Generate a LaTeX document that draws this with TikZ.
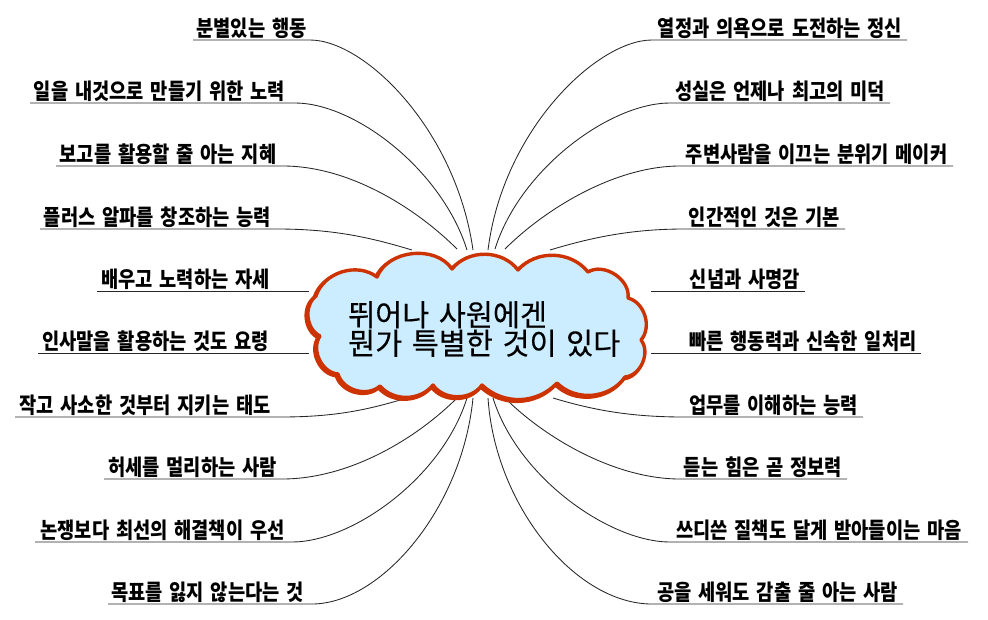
\documentclass[tikz,border=0pt]{standalone}
\usepackage{fontspec}
\newfontfamily\labfont{Noto Sans CJK KR}[FakeStretch=0.85,WordSpace=1.6]
\newfontfamily\cloudfont{Noto Sans CJK KR}[FakeStretch=0.98,WordSpace=1.45,FakeBold=0.3]
\definecolor{cloudfill}{RGB}{204,236,255}
\definecolor{cloudline}{RGB}{204,51,0}
\newcommand\mycloudpath{(316,296) to[bend left=55] (377,277) to[bend left=62] (452,269)
  to[bend left=52] (518,270) to[bend left=50] (588,272)
  to[bend left=65] (628,298) to[bend left=58] (641,340)
  to[bend left=62] (625,377) to[bend left=50] (557,383)
  to[bend left=45] (482,385) to[bend left=55] (433,385)
  to[bend left=50] (380,386) to[bend left=58] (338,374)
  to[bend left=60] (320,336) to[bend left=58] (316,296) -- cycle}
\begin{document}
\begin{tikzpicture}[x=1pt,y=-1pt,
  lab/.style={anchor=base, inner sep=0pt, font=\labfont\bfseries\fontsize{22}{22}\selectfont},
  conn/.style={draw=black!85, line width=0.85pt},
  cloudtext/.style={anchor=west, inner sep=0pt, align=left, font=\cloudfont\fontsize{30}{36.5}\selectfont}]
\fill[white] (0,0) rectangle (988,619);
\useasboundingbox (0,0) rectangle (988,619);

% ---------- coordinates at the cloud ----------
\coordinate (eL1) at (473,250);
\coordinate (eL2) at (467,250);
\coordinate (eL3) at (457,249);
\coordinate (eL4) at (412,250);
\coordinate (eL7) at (407,398);
\coordinate (eL8) at (457,398);
\coordinate (eL9) at (467,398);
\coordinate (eL10) at (473,398);
\coordinate (eR1) at (488,250);
\coordinate (eR2) at (495,249);
\coordinate (eR3) at (505,249);
\coordinate (eR4) at (550,250);
\coordinate (eR7) at (553,398);
\coordinate (eR8) at (505,398);
\coordinate (eR9) at (493,398);
\coordinate (eR10) at (488,398);

% ---------- left labels ----------
\node[lab] (tL1) at (251.5,36) {분별있는 행동};
\node[lab] (tL2) at (159.5,99) {일을 내것으로 만들기 위한 노력};
\node[lab] (tL3) at (168,162) {보고를 활용할 줄 아는 지혜};
\node[lab] (tL4) at (157.5,225) {플러스 알파를 창조하는 능력};
\node[lab] (tL5) at (185.5,287) {배우고 노력하는 자세};
\node[lab] (tL6) at (155.7,349) {인사말을 활용하는 것도 요령};
\node[lab] (tL7) at (145,413) {작고 사소한 것부터 지키는 태도};
\node[lab] (tL8) at (192.5,475) {허세를 멀리하는 사람};
\node[lab] (tL9) at (162.5,538) {논쟁보다 최선의 해결책이 우선};
\node[lab] (tL10) at (207.5,600) {목표를 잃지 않는다는 것};

% ---------- right labels ----------
\node[lab] (tR1) at (780,36) {열정과 의욕으로 도전하는 정신};
\node[lab] (tR2) at (780,99) {성실은 언제나 최고의 미덕};
\node[lab] (tR3) at (816.5,162) {주변사람을 이끄는 분위기 메이커};
\node[lab] (tR4) at (764.5,225) {인간적인 것은 기본};
\node[lab] (tR5) at (745,287) {신념과 사명감};
\node[lab] (tR6) at (803,349) {빠른 행동력과 신속한 일처리};
\node[lab] (tR7) at (773.5,413) {업무를 이해하는 능력};
\node[lab] (tR8) at (763,475) {듣는 힘은 곧 정보력};
\node[lab] (tR9) at (819,538) {쓰디쓴 질책도 달게 받아들이는 마음};
\node[lab] (tR10) at (777.5,600) {공을 세워도 감출 줄 아는 사람};

% ---------- underline start / curve start coordinates ----------
\coordinate (aL1) at (193,40);  \coordinate (bL1) at (310,40);
\coordinate (aL2) at (30,103);  \coordinate (bL2) at (295,103);
\coordinate (aL3) at (56,166);  \coordinate (bL3) at (283,166);
\coordinate (aL4) at (40,229);  \coordinate (bL4) at (277,229);
\coordinate (aL5) at (97,291);  \coordinate (bL5) at (309,291);
\coordinate (aL6) at (38,353);  \coordinate (bL6) at (309,353);
\coordinate (aL7) at (15,417);  \coordinate (bL7) at (280,417);
\coordinate (aL8) at (104,479); \coordinate (bL8) at (282,479);
\coordinate (aL9) at (35,542);  \coordinate (bL9) at (292,542);
\coordinate (aL10) at (108,604); \coordinate (bL10) at (312,604);
\coordinate (aR1) at (907,40);  \coordinate (bR1) at (652,40);
\coordinate (aR2) at (890,103); \coordinate (bR2) at (670,103);
\coordinate (aR3) at (953,166); \coordinate (bR3) at (680,166);
\coordinate (aR4) at (845,229); \coordinate (bR4) at (684,229);
\coordinate (aR5) at (805,291); \coordinate (bR5) at (651,291);
\coordinate (aR6) at (921,353); \coordinate (bR6) at (651,353);
\coordinate (aR7) at (863,417); \coordinate (bR7) at (684,417);
\coordinate (aR8) at (847,479); \coordinate (bR8) at (680,479);
\coordinate (aR9) at (968,542); \coordinate (bR9) at (670,542);
\coordinate (aR10) at (903,604); \coordinate (bR10) at (652,604);

% ---------- connectors ----------
\draw[conn] (aL1) -- (bL1) .. controls (365,40) and (456,130) .. (eL1);
\draw[conn] (aL2) -- (bL2) .. controls (355,103) and (442,170) .. (eL2);
\draw[conn] (aL3) -- (bL3) .. controls (350,166) and (417,209) .. (eL3);
\draw[conn] (aL4) -- (bL4) .. controls (335,229) and (372,238) .. (eL4);
\draw[conn] (aL5) -- (bL5);
\draw[conn] (aL6) -- (bL6);
\draw[conn] (aL7) -- (bL7) .. controls (335,417) and (367,410) .. (eL7);
\draw[conn] (aL8) -- (bL8) .. controls (350,479) and (417,438) .. (eL8);
\draw[conn] (aL9) -- (bL9) .. controls (352,542) and (442,478) .. (eL9);
\draw[conn] (aL10) -- (bL10) .. controls (380,604) and (462,510) .. (eL10);

\draw[conn] (aR1) -- (bR1) .. controls (597,40) and (503,130) .. (eR1);
\draw[conn] (aR2) -- (bR2) .. controls (610,103) and (520,169) .. (eR2);
\draw[conn] (aR3) -- (bR3) .. controls (615,166) and (545,209) .. (eR3);
\draw[conn] (aR4) -- (bR4) .. controls (630,229) and (590,238) .. (eR4);
\draw[conn] (aR5) -- (bR5);
\draw[conn] (aR6) -- (bR6);
\draw[conn] (aR7) -- (bR7) .. controls (630,417) and (593,410) .. (eR7);
\draw[conn] (aR8) -- (bR8) .. controls (615,479) and (545,438) .. (eR8);
\draw[conn] (aR9) -- (bR9) .. controls (610,542) and (518,478) .. (eR9);
\draw[conn] (aR10) -- (bR10) .. controls (575,604) and (495,505) .. (eR10);

% ---------- cloud (thicker lower-left rim, then body) ----------
\draw[cloudline, line width=4pt, line join=round, shift={(-1.5,1.5)}] \mycloudpath;
\path[draw=cloudline, fill=cloudfill, line width=3.4pt, line join=round] \mycloudpath;

\node[cloudtext] (cl) at (348,329) {뛰어나 사원에겐\\[-8pt]뭔가 특별한 것이 있다};
\end{tikzpicture}
\end{document}
